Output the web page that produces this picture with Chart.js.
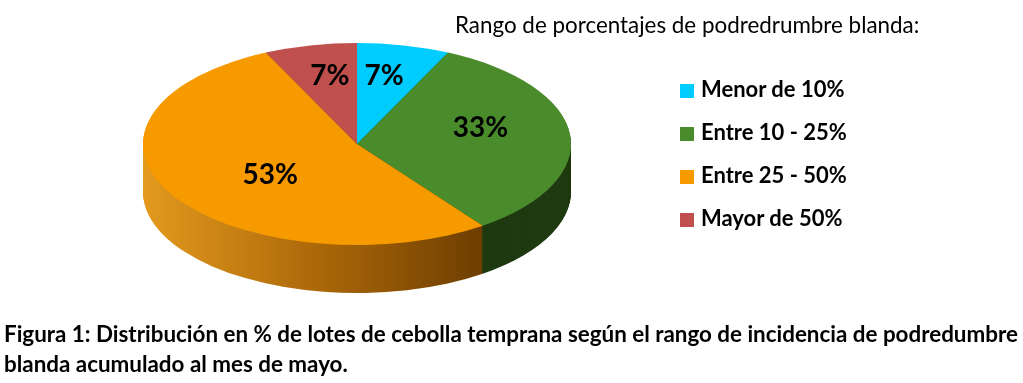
<!DOCTYPE html>
<html>
<head>
<meta charset="utf-8">
<script src="https://cdn.jsdelivr.net/npm/chart.js@4.4.0/dist/chart.umd.min.js"></script>
<style>
    body { margin: 0; background: #fff; }
    #wrap { position: relative; width: 1023px; height: 383px; overflow: hidden; font-family: Lato, sans-serif; color: #000; }
    #pieChart { position: absolute; left: 0; top: 0; }
    .title { position: absolute; left: 455px; top: 11px; font-size: 22.4px; line-height: 28px; white-space: nowrap; }
    .legend { position: absolute; left: 680px; top: 0; }
    .legend div { position: absolute; white-space: nowrap; font-weight: bold; font-size: 22px; line-height: 26px; }
    .legend span { display: inline-block; width: 14px; height: 14px; margin-right: 7px; vertical-align: -1px; }
    .caption { position: absolute; left: 4px; top: 319px; font-weight: bold; font-size: 22.4px; line-height: 30px; white-space: nowrap; }
</style>
</head>
<body>
<div id="wrap">
    <canvas id="pieChart" width="1023" height="383"></canvas>
    <div class="title">Rango de porcentajes de podredrumbre blanda:</div>
    <div class="legend" id="legend"></div>
    <div class="caption">Figura 1: Distribución en % de lotes de cebolla temprana según el rango de incidencia de podredumbre<br>blanda acumulado al mes de mayo.</div>
</div>
<script>
var categories = ['Menor de 10%', 'Entre 10 - 25%', 'Entre 25 - 50%', 'Mayor de 50%'];
var values = [7, 33, 53, 7];
var topColors = ['#00CCFF', '#4A8C2B', '#F79A00', '#C0504D'];
var sideColors = ['#006680', '#1F3A11', 'gradient', '#6A2A28'];

// ellipse the pie is squashed into
var pieX = 357, pieY = 144, pieRX = 214, pieRY = 101, depth = 48;
// small nudges so the labels sit where the original put them
var labelDX = [0, 0, 20, 0];
var labelDY = [-3, -3, 9, -3];

// html legend
var legend = document.getElementById('legend');
categories.forEach(function (c, i) {
    var d = document.createElement('div');
    d.style.top = (76 + i * 43) + 'px';
    d.innerHTML = '<span style="background:' + topColors[i] + '"></span>' + c;
    legend.appendChild(d);
});

function pieTransform(ctx, arc) {
    ctx.translate(pieX, pieY);
    ctx.scale(pieRX / arc.outerRadius, pieRY / arc.outerRadius);
    ctx.translate(-arc.x, -arc.y);
}

var pie3d = {
    id: 'pie3d',
    beforeDatasetsDraw: function (chart) {
        var ctx = chart.ctx;
        var arcs = chart.getDatasetMeta(0).data;
        var a0 = arcs[0];
        ctx.save();
        pieTransform(ctx, a0);
        var sy = pieRY / a0.outerRadius;
        // side band: draw the slices shifted down in dark colours
        var grad = ctx.createLinearGradient(a0.x - a0.outerRadius, 0, a0.x + a0.outerRadius * 0.7, 0);
        grad.addColorStop(0, '#E39A1E');
        grad.addColorStop(0.5, '#A96608');
        grad.addColorStop(1, '#643800');
        for (var k = depth; k >= 1; k--) {
            ctx.save();
            ctx.translate(0, k / sy);
            arcs.forEach(function (el, i) {
                var o = el.options;
                el.options = Object.assign({}, o, { backgroundColor: sideColors[i] === 'gradient' ? grad : sideColors[i] });
                el.draw(ctx);
                el.options = o;
            });
            ctx.restore();
        }
    },
    afterDatasetsDraw: function (chart) {
        var ctx = chart.ctx;
        ctx.restore();
        // percentage labels
        var arcs = chart.getDatasetMeta(0).data;
        var total = values.reduce(function (s, v) { return s + v; }, 0);
        ctx.save();
        ctx.font = 'bold 28px Lato, sans-serif';
        ctx.fillStyle = '#000';
        ctx.textAlign = 'center';
        ctx.textBaseline = 'middle';
        arcs.forEach(function (el, i) {
            var mid = (el.startAngle + el.endAngle) / 2;
            var f = 0.58;
            var x = pieX + Math.cos(mid) * pieRX * f + labelDX[i];
            var y = pieY + Math.sin(mid) * pieRY * f - 8 + labelDY[i];
            ctx.fillText(Math.round(values[i] / total * 100) + '%', x, y);
        });
        ctx.restore();
    }
};

new Chart(document.getElementById('pieChart'), {
    type: 'pie',
    data: {
        labels: categories,
        datasets: [{
            data: values,
            backgroundColor: topColors,
            borderWidth: 0,
            clip: false
        }]
    },
    options: {
        responsive: false,
        animation: false,
        events: [],
        plugins: {
            legend: { display: false },
            tooltip: { enabled: false }
        }
    },
    plugins: [pie3d]
});
</script>
</body>
</html>
